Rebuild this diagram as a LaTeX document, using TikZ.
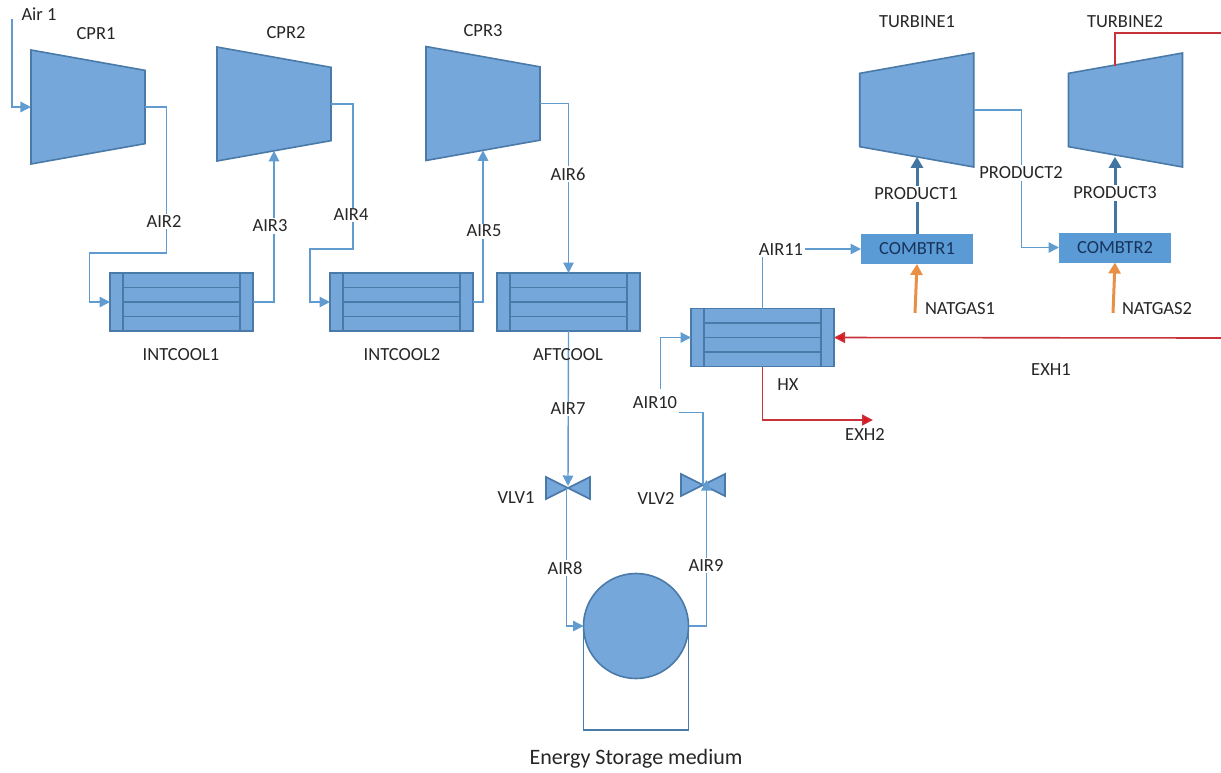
\documentclass[tikz,border=0pt]{standalone}
\usepackage{fontspec}
\setmainfont{Carlito}
\usepackage{xcolor}
\usetikzlibrary{arrows.meta, positioning, shapes.geometric, calc}
\definecolor{eqfill}{RGB}{118,167,218}
\definecolor{eqline}{RGB}{74,122,168}
\definecolor{airline}{RGB}{96,156,208}
\definecolor{hotline}{RGB}{200,50,58}
\definecolor{hottip}{RGB}{226,20,28}
\definecolor{prodline}{RGB}{66,118,160}
\definecolor{gasline}{RGB}{232,145,70}
\definecolor{burnfill}{RGB}{91,155,213}
\definecolor{burntext}{RGB}{24,52,92}

\begin{document}
\begin{tikzpicture}[
  x=1pt, y=-1pt,
  font=\fontsize{18.5}{20}\selectfont,
  equip/.style={draw=eqline, line width=1.6pt, fill=eqfill},
  cpr/.style={equip, trapezium, trapezium stretches=true, shape border rotate=270,
              trapezium left angle=73, trapezium right angle=73,
              minimum width=114pt, minimum height=114pt, inner sep=0pt, outer sep=0pt},
  turb/.style={cpr, shape border rotate=90},
  cool/.style={equip, rectangle, minimum width=143pt, minimum height=58pt, inner sep=0pt, outer sep=0pt,
    path picture={
      \foreach \f in {0.25,0.5,0.75}
        \draw[eqline, line width=1.4pt]
          ([xshift=13pt]$(path picture bounding box.north west)!\f!(path picture bounding box.south west)$) --
          ([xshift=-13pt]$(path picture bounding box.north east)!\f!(path picture bounding box.south east)$);
      \draw[eqline, line width=1.4pt]
        ([xshift=13pt]path picture bounding box.north west) -- ([xshift=13pt]path picture bounding box.south west)
        ([xshift=-13pt]path picture bounding box.north east) -- ([xshift=-13pt]path picture bounding box.south east);
    }},
  burner/.style={rectangle, fill=burnfill, text=burntext, minimum width=112pt, minimum height=30pt,
                 inner sep=0pt, outer sep=0pt},
  vlv/.pic={\draw[equip] (-22,-11) -- (-22,11) -- (22,-11) -- (22,11) -- cycle;},
  fl/.style={-{Triangle[length=10.5pt,width=10.5pt]}, airline, line width=1.4pt},
  prod/.style={-{Triangle[length=11pt,width=12pt]}, prodline, line width=3pt},
  gas/.style={-{Triangle[length=11pt,width=12pt]}, gasline, line width=3pt},
  hot/.style={-{Triangle[length=11pt,width=11pt,fill=hottip]}, hotline, line width=1.6pt},
  lbl/.style={fill=white, inner sep=1.5pt, text=black!85},
  plain/.style={inner sep=1.5pt, text=black!85}
]
\useasboundingbox (0,0) rectangle (1221,772);

% compressors and turbines
\node[cpr] (cpr1) at (88,107) {\phantom{x}};
\node[cpr] (cpr2) at (274,104) {\phantom{x}};
\node[cpr] (cpr3) at (483,103.5) {\phantom{x}};
\node[turb] (turb1) at (916.75,110) {\phantom{x}};
\node[turb] (turb2) at (1125.5,110) {\phantom{x}};

% coolers
\node[cool] (cool1) at (181.5,302) {};
\node[cool, right=77pt of cool1] (cool2) {};
\node[cool, right=24pt of cool2] (aft) {};
\node[cool] (hx) at (762.5,337.5) {};

% combustors
\node[burner] (comb1) at (917,249) {COMBTR1};
\node[burner] (comb2) at (1115,247.5) {COMBTR2};

% valves and storage
\coordinate (vlv1) at (568,488);
\coordinate (vlv2) at (703,485);
\pic at (vlv1) {vlv};
\pic at (vlv2) {vlv};
\node[equip, circle, minimum size=105pt, inner sep=0pt, outer sep=0pt] (store) at (636,626) {};
\draw[eqline, line width=1.8pt] (store.west) -- ++(0,104) -| (store.east);

% free ends
\coordinate (air1in) at (12,19);
\coordinate (gas1) at (915,313);
\coordinate (gas2) at (1113,313);
\coordinate (t2out) at (1115,66);
\coordinate (edgetop) at (1221,33);
\coordinate (edgehx) at (1221,338);
\coordinate (exh2end) at (873,420);

% air train
\draw[fl] (air1in) |- (cpr1.west);
\draw[fl] (cpr1.east) -- ++(21.5,0) -- ++(0,146) -| (89.5,280) |- (cool1.west);
\draw[fl] (cool1.east) -| (cpr2.south);
\draw[fl] (cpr2.east) -- ++(22,0) -- ++(0,145) -| (310,280) |- (cool2.west);
\draw[fl] (cool2.east) -| (cpr3.south);
\draw[fl] (cpr3.east) -| (aft.north);
\draw[fl] (aft.south) -- ([yshift=2pt]vlv1);
\draw[fl] ([xshift=-1.5pt]vlv1) |- (store.west);
\draw[fl] (store.east) -| ([xshift=3.5pt,yshift=5pt]vlv2);
\draw[fl] (vlv2) |- (660.5,412.5) |- (hx.west);
\draw[fl] (hx.north) |- (comb1.west);

% products
\draw[prod] (comb1.north) -- (comb1.north |- turb1.south);
\draw[prod] (comb2.north) -- (comb2.north |- turb2.south);
\draw[fl] (turb1.east) -- ++(48,0) |- (comb2.west);

% fuel
\draw[gas] (gas1) -- (comb1.south);
\draw[gas] (gas2) -- (comb2.south);

% exhaust
\draw[hotline, line width=1.6pt] (t2out) |- (edgetop);
\draw[hot] (edgehx) -- (hx.east);
\draw[hot] (hx.south) |- (exh2end);

% labels
\node[plain] (lair1) at (39,14) {Air 1};
\node[plain] (lcpr1) at (96,34) {CPR1};
\node[plain] (lcpr2) at (286,33) {CPR2};
\node[plain] (lcpr3) at (483,31) {CPR3};
\node[plain] (lturb1) at (917,22) {TURBINE1};
\node[plain] (lturb2) at (1125,22) {TURBINE2};
\node[lbl] (lair2) at (164,221) {AIR2};
\node[lbl] (lair3) at (270,226) {AIR3};
\node[lbl] (lair4) at (351,215) {AIR4};
\node[lbl] (lair5) at (484,231) {AIR5};
\node[lbl] (lair6) at (568,174) {AIR6};
\node[lbl] (lair7) at (568,409) {AIR7};
\node[lbl] (lair8) at (565,568) {AIR8};
\node[lbl] (lair9) at (706,565) {AIR9};
\node[lbl, minimum height=28pt] (lair10) at (655,403) {AIR10};
\node[lbl] (lair11) at (781,250) {AIR11};
\node[plain] (lint1) at (181,355) {INTCOOL1};
\node[plain] (lint2) at (402,355) {INTCOOL2};
\node[plain] (laft) at (568,355) {AFTCOOL};
\node[plain] (lhx) at (788,385) {HX};
\node[plain] (lvlv1) at (516,498) {VLV1};
\node[plain] (lvlv2) at (656,498) {VLV2};
\node[plain] (lexh1) at (1051,370) {EXH1};
\node[plain] (lexh2) at (865,434) {EXH2};
\node[lbl] (lprod1) at (916,194) {PRODUCT1};
\node[lbl] (lprod2) at (1021,173) {PRODUCT2};
\node[lbl] (lprod3) at (1115,193) {PRODUCT3};
\node[plain] (lgas1) at (960,309) {NATGAS1};
\node[plain] (lgas2) at (1157,309) {NATGAS2};
\node[plain, font=\fontsize{22}{24}\selectfont] (lstore) at (636,759) {Energy Storage medium};

\end{tikzpicture}
\end{document}
